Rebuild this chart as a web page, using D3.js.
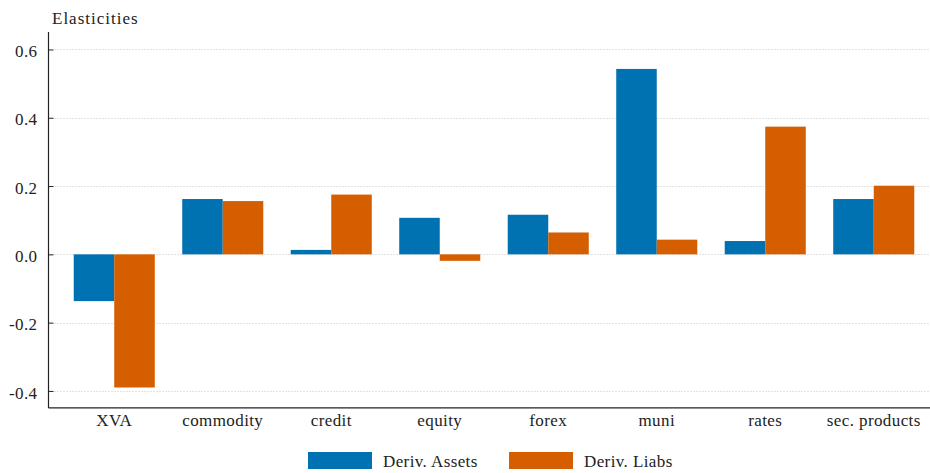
<!DOCTYPE html>
<html>
<head>
<meta charset="utf-8">
<script src="https://cdn.jsdelivr.net/npm/d3@7"></script>
<style>
  body { margin: 0; background: #fff; }
  text { font-family: "Liberation Serif", "DejaVu Serif", serif; fill: #222; letter-spacing: 0.4px; }
</style>
</head>
<body>
<div id="chart"></div>
<script>
// data
const categories = ["XVA", "commodity", "credit", "equity", "forex", "muni", "rates", "sec. products"];
const series = ["Deriv. Assets", "Deriv. Liabs"];
const derivAssets = [-0.137, 0.162, 0.013, 0.107, 0.116, 0.543, 0.039, 0.162];
const derivLiabs = [-0.390, 0.156, 0.175, -0.019, 0.064, 0.043, 0.374, 0.201];
const yTicks = [-0.4, -0.2, 0.0, 0.2, 0.4, 0.6];
const colours = ["#0072B2", "#D55E00"];

const width = 930, height = 473;
const fontSize = 17;

const svg = d3.select('#chart')
  .append('svg')
  .attr('width', width)
  .attr('height', height);

const x = d3.scaleBand()
  .domain(categories)
  .range([60, 928])
  .paddingInner(0.253)
  .paddingOuter(0.1265);

const xSub = d3.scaleBand()
  .domain(series)
  .range([0, x.bandwidth()]);

const y = d3.scaleLinear()
  .domain([-0.45, 0.65])
  .range([408, 32.4]);

const color = d3.scaleOrdinal().domain(series).range(colours);

const axisX = 48.5;

// gridlines
svg.append('g')
  .selectAll('line')
  .data(yTicks)
  .enter()
  .append('line')
  .attr('x1', axisX + 6)
  .attr('x2', width)
  .attr('y1', d => Math.round(y(d)) + 0.5)
  .attr('y2', d => Math.round(y(d)) + 0.5)
  .attr('stroke', '#c4c4c4')
  .attr('stroke-width', 1)
  .attr('stroke-dasharray', '1,2');

// bars
const rows = categories.map((c, i) => ({ cat: c, values: [derivAssets[i], derivLiabs[i]] }));

const groups = svg.append('g')
  .selectAll('g')
  .data(rows)
  .enter()
  .append('g')
  .attr('transform', d => `translate(${x(d.cat)},0)`);

groups.selectAll('rect')
  .data(d => d.values.map((v, i) => ({ key: series[i], value: v })))
  .enter()
  .append('rect')
  .attr('x', d => xSub(d.key))
  .attr('width', xSub.bandwidth())
  .attr('y', d => y(Math.max(0, d.value)))
  .attr('height', d => Math.abs(y(d.value) - y(0)))
  .attr('fill', d => color(d.key));

// y axis
const yAxis = d3.axisLeft(y)
  .tickValues(yTicks)
  .tickFormat(d3.format('.1f'))
  .tickSize(-5)
  .tickPadding(11);

const gy = svg.append('g')
  .attr('transform', `translate(${axisX},0)`)
  .call(yAxis);
gy.select('.domain').remove();
gy.selectAll('.tick line').attr('stroke', '#222');
gy.selectAll('.tick text')
  .attr('font-size', fontSize)
  .attr('dy', '0.42em')
  .attr('fill', '#222')
  .text(d => d3.format('.1f')(d).replace('−', '-'));

svg.append('line')
  .attr('x1', axisX).attr('x2', axisX)
  .attr('y1', 32).attr('y2', 408)
  .attr('stroke', '#222').attr('stroke-width', 1.2);

// x axis
const xAxis = d3.axisBottom(x).tickSize(0).tickPadding(6);
const gx = svg.append('g')
  .attr('transform', 'translate(0,408)')
  .call(xAxis);
gx.select('.domain').remove();
gx.selectAll('.tick text')
  .attr('font-size', fontSize)
  .attr('fill', '#222');

svg.append('line')
  .attr('x1', axisX).attr('x2', width)
  .attr('y1', 407.8).attr('y2', 407.8)
  .attr('stroke', '#222').attr('stroke-width', 1.2);

// axis title
svg.append('text')
  .attr('x', 52)
  .attr('y', 24)
  .attr('font-size', fontSize)
  .style('letter-spacing', '1px')
  .text('Elasticities');

// legend
const legend = svg.append('g')
  .selectAll('g')
  .data(series)
  .enter()
  .append('g')
  .attr('transform', (d, i) => `translate(${308 + i * 201},452)`);

legend.append('rect')
  .attr('width', 64)
  .attr('height', 17)
  .attr('fill', d => color(d));

legend.append('text')
  .attr('x', 75)
  .attr('y', 15)
  .attr('font-size', fontSize)
  .text(d => d);
</script>
</body>
</html>
